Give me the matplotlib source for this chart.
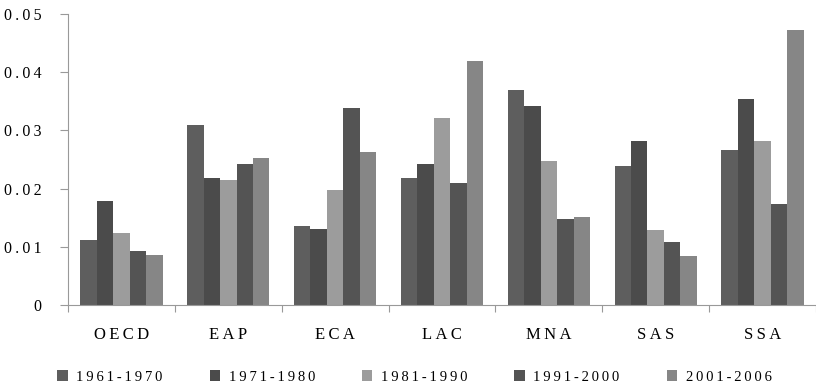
import matplotlib
matplotlib.use("Agg")
import matplotlib.pyplot as plt
import matplotlib.patches as mpatches
import numpy as np

plt.rcParams['font.family'] = ['Liberation Serif', 'DejaVu Serif']

regions = ["OECD", "EAP", "ECA", "LAC", "MNA", "SAS", "SSA"]
periods = ["1961-1970", "1971-1980", "1981-1990", "1991-2000", "2001-2006"]

v_1961 = [0.0111, 0.0309, 0.0136, 0.0218, 0.0369, 0.0239, 0.0266]
v_1971 = [0.0178, 0.0218, 0.0131, 0.0243, 0.0342, 0.0282, 0.0354]
v_1981 = [0.0123, 0.0214, 0.0198, 0.0321, 0.0248, 0.0129, 0.0282]
v_1991 = [0.0093, 0.0243, 0.0339, 0.0209, 0.0147, 0.0109, 0.0174]
v_2001 = [0.0086, 0.0253, 0.0263, 0.0420, 0.0151, 0.0084, 0.0473]
series = [v_1961, v_1971, v_1981, v_1991, v_2001]

colors = ["#5e5e5e", "#4b4b4b", "#9c9c9c", "#545454", "#868686"]


def spaced(s):
    # letter-spaced look of the original
    return "\u2009".join(s)


fig = plt.figure(figsize=(8.16, 3.87), dpi=100)
ax = fig.add_axes([68 / 816, 1 - 305 / 387, 748 / 816, 291 / 387])

x = np.arange(len(regions))
w = 0.154
for i, (vals, c) in enumerate(zip(series, colors)):
    ax.bar(x + (i - 2) * w, vals, width=w, color=c, edgecolor='none', zorder=2)

ax.set_xlim(-0.5, 6.5 - 8 / 108)
ax.set_ylim(0, 0.05)

yt = [0, 0.01, 0.02, 0.03, 0.04, 0.05]
ax.set_yticks(yt)
ax.set_yticklabels(["0"] + [spaced(f"{t:.2f}") for t in yt[1:]], fontsize=11.5)
ax.tick_params(axis='y', direction='out', length=6, color='#999999', width=0.8, pad=13)

ax.set_xticks(x)
ax.set_xticklabels([spaced(r) for r in regions], fontsize=12)
ax.set_xticks(np.arange(-0.5, 7, 1), minor=True)
ax.tick_params(axis='x', which='major', length=0, pad=16)
ax.tick_params(axis='x', which='minor', direction='out', length=5, color='#999999', width=0.8)

for s in ['top', 'right']:
    ax.spines[s].set_visible(False)
for s in ['left', 'bottom']:
    ax.spines[s].set_color('#999999')
    ax.spines[s].set_linewidth(0.8)

handles = [mpatches.Patch(facecolor=c, edgecolor='none') for c in colors]
fig.legend(handles, [spaced(p) for p in periods], loc='center left',
           bbox_to_anchor=(53 / 816, 1 - 377 / 387), ncol=5, frameon=False,
           fontsize=10.5, handlelength=0.7, handleheight=0.7,
           handletextpad=0.6, columnspacing=3.22, borderaxespad=0, borderpad=0.3)

fig.savefig("out.png", dpi=100)
